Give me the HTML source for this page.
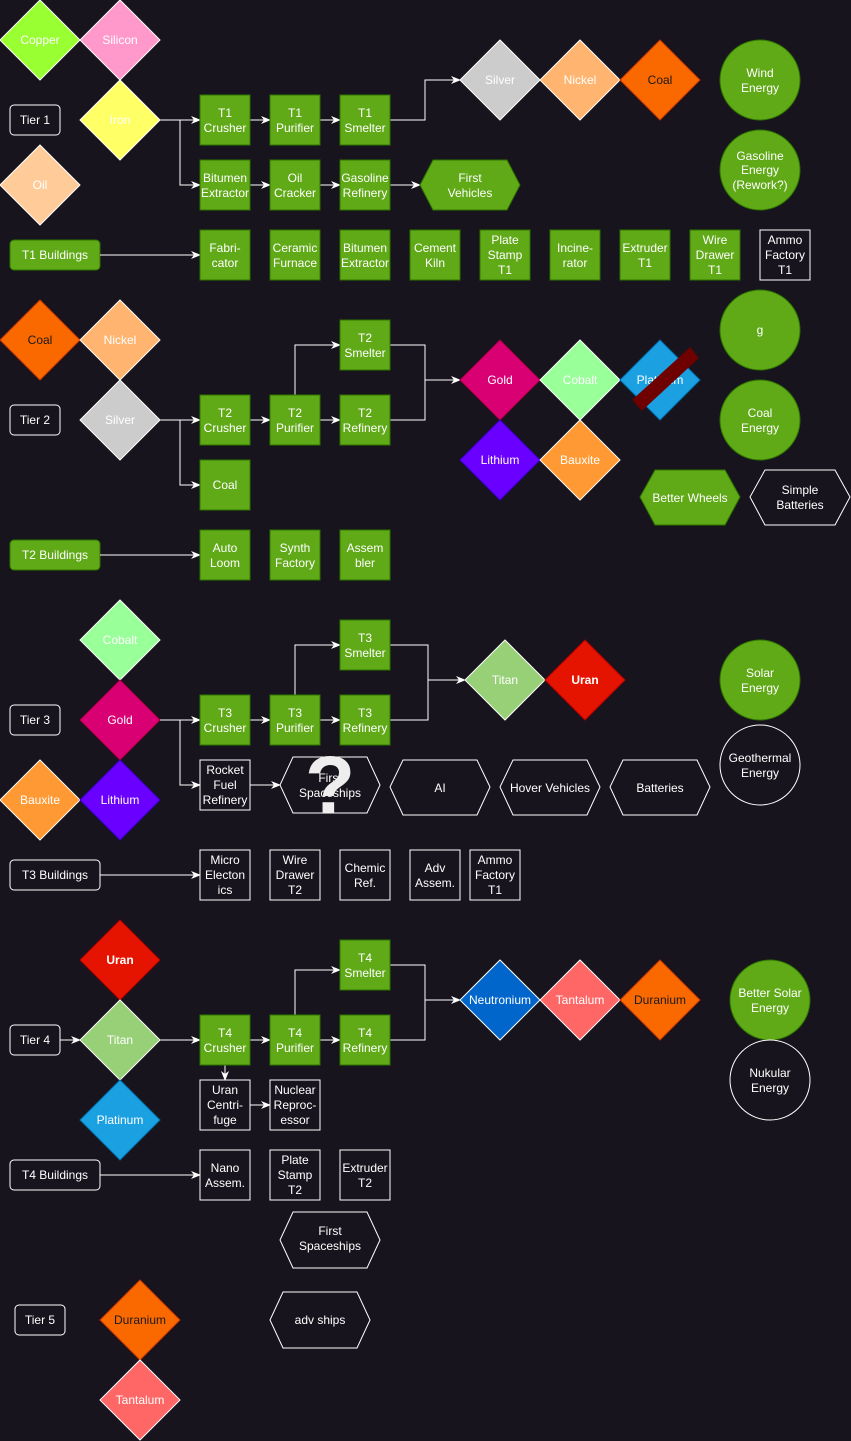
<!DOCTYPE html>
<html><head><meta charset="utf-8"><style>
html,body{margin:0;padding:0;background:#18141d;}
svg{display:block;}
text{font-family:"Liberation Sans",Arial,sans-serif;font-size:12px;fill:#fff;text-anchor:middle;}
.k{fill:#1a1a1a;}
.g{fill:#60a917;stroke:#2d7600;stroke-width:1;}
.w{fill:#18141d;stroke:#fff;stroke-width:1;}
.l{fill:none;stroke:#fff;stroke-width:1;}
</style></head><body>
<svg width="851" height="1441" viewBox="0 0 851 1441" xmlns="http://www.w3.org/2000/svg">
<defs>
<polygon id="d" points="0,-40 40,0 0,40 -40,0"/>
<marker id="a" markerWidth="10" markerHeight="10" refX="9" refY="5" orient="auto" markerUnits="userSpaceOnUse"><path d="M0,1 L10,5 L0,9 L3,5 z" fill="#fff"/></marker>
</defs>
<rect width="851" height="1441" fill="#18141d"/>

<!-- ===== TIER 1 ===== -->
<g stroke="#fff" stroke-width="1">
<use href="#d" x="40" y="40" fill="#99ff33"/>
<use href="#d" x="120" y="40" fill="#ff99cc"/>
<use href="#d" x="120" y="120" fill="#ffff66"/>
<use href="#d" x="40" y="185" fill="#ffcc99"/>
</g>
<text x="40" y="44">Copper</text><text x="120" y="44">Silicon</text><text x="120" y="124">Iron</text><text x="40" y="189">Oil</text>
<rect x="10" y="105" width="50" height="30" rx="4" class="w"/><text x="35" y="124">Tier 1</text>

<path class="l" d="M160,120 H200" marker-end="url(#a)"/>
<path class="l" d="M180,120 V185 H200" marker-end="url(#a)"/>
<path class="l" d="M250,120 H270" marker-end="url(#a)"/>
<path class="l" d="M320,120 H340" marker-end="url(#a)"/>
<path class="l" d="M250,185 H270" marker-end="url(#a)"/>
<path class="l" d="M320,185 H340" marker-end="url(#a)"/>
<path class="l" d="M390,185 H420" marker-end="url(#a)"/>
<path class="l" d="M390,120 H425 V80 H460" marker-end="url(#a)"/>

<rect x="200" y="95" width="50" height="50" class="g"/><text x="225" y="117">T1</text><text x="225" y="132">Crusher</text>
<rect x="270" y="95" width="50" height="50" class="g"/><text x="295" y="117">T1</text><text x="295" y="132">Purifier</text>
<rect x="340" y="95" width="50" height="50" class="g"/><text x="365" y="117">T1</text><text x="365" y="132">Smelter</text>
<rect x="200" y="160" width="50" height="50" class="g"/><text x="225" y="182">Bitumen</text><text x="225" y="197">Extractor</text>
<rect x="270" y="160" width="50" height="50" class="g"/><text x="295" y="182">Oil</text><text x="295" y="197">Cracker</text>
<rect x="340" y="160" width="50" height="50" class="g"/><text x="365" y="182">Gasoline</text><text x="365" y="197">Refinery</text>
<polygon points="433,160 507,160 520,185 507,210 433,210 420,185" class="g"/><text x="470" y="182">First</text><text x="470" y="197">Vehicles</text>

<g stroke="#fff"><use href="#d" x="500" y="80" fill="#cccccc"/><use href="#d" x="580" y="80" fill="#ffb570"/></g>
<use href="#d" x="660" y="80" fill="#fa6800" stroke="#c73500"/>
<text x="500" y="84">Silver</text><text x="580" y="84">Nickel</text><text x="660" y="84" class="k">Coal</text>
<circle cx="760" cy="80" r="40" class="g"/><text x="760" y="77">Wind</text><text x="760" y="92">Energy</text>
<circle cx="760" cy="170" r="40" class="g"/><text x="760" y="160">Gasoline</text><text x="760" y="174">Energy</text><text x="760" y="189">(Rework?)</text>

<rect x="10" y="240" width="90" height="30" rx="4" class="g"/><text x="55" y="259">T1 Buildings</text>
<path class="l" d="M100,255 H200" marker-end="url(#a)"/>
<rect x="200" y="230" width="50" height="50" class="g"/><text x="225" y="252">Fabri-</text><text x="225" y="267">cator</text>
<rect x="270" y="230" width="50" height="50" class="g"/><text x="295" y="252">Ceramic</text><text x="295" y="267">Furnace</text>
<rect x="340" y="230" width="50" height="50" class="g"/><text x="365" y="252">Bitumen</text><text x="365" y="267">Extractor</text>
<rect x="410" y="230" width="50" height="50" class="g"/><text x="435" y="252">Cement</text><text x="435" y="267">Kiln</text>
<rect x="480" y="230" width="50" height="50" class="g"/><text x="505" y="244">Plate</text><text x="505" y="259">Stamp</text><text x="505" y="274">T1</text>
<rect x="550" y="230" width="50" height="50" class="g"/><text x="575" y="252">Incine-</text><text x="575" y="267">rator</text>
<rect x="620" y="230" width="50" height="50" class="g"/><text x="645" y="252">Extruder</text><text x="645" y="267">T1</text>
<rect x="690" y="230" width="50" height="50" class="g"/><text x="715" y="244">Wire</text><text x="715" y="259">Drawer</text><text x="715" y="274">T1</text>
<rect x="760" y="230" width="50" height="50" class="w"/><text x="785" y="244">Ammo</text><text x="785" y="259">Factory</text><text x="785" y="274">T1</text>

<!-- ===== TIER 2 ===== -->
<use href="#d" x="40" y="340" fill="#fa6800" stroke="#c73500"/>
<g stroke="#fff"><use href="#d" x="120" y="340" fill="#ffb570"/><use href="#d" x="120" y="420" fill="#cccccc"/></g>
<text x="40" y="344" class="k">Coal</text><text x="120" y="344">Nickel</text><text x="120" y="424">Silver</text>
<rect x="10" y="405" width="50" height="30" rx="4" class="w"/><text x="35" y="424">Tier 2</text>

<path class="l" d="M160,420 H200" marker-end="url(#a)"/>
<path class="l" d="M180,420 V485 H200" marker-end="url(#a)"/>
<path class="l" d="M250,420 H270" marker-end="url(#a)"/>
<path class="l" d="M320,420 H340" marker-end="url(#a)"/>
<path class="l" d="M295,395 V345 H340" marker-end="url(#a)"/>
<path class="l" d="M390,345 H425 V420 H390 M425,380 H460" marker-end="url(#a)"/>

<rect x="200" y="395" width="50" height="50" class="g"/><text x="225" y="417">T2</text><text x="225" y="432">Crusher</text>
<rect x="270" y="395" width="50" height="50" class="g"/><text x="295" y="417">T2</text><text x="295" y="432">Purifier</text>
<rect x="340" y="320" width="50" height="50" class="g"/><text x="365" y="342">T2</text><text x="365" y="357">Smelter</text>
<rect x="340" y="395" width="50" height="50" class="g"/><text x="365" y="417">T2</text><text x="365" y="432">Refinery</text>
<rect x="200" y="460" width="50" height="50" class="g"/><text x="225" y="489">Coal</text>

<use href="#d" x="500" y="380" fill="#d80073" stroke="#a50040"/>
<use href="#d" x="580" y="380" fill="#99ff99" stroke="#fff"/>
<use href="#d" x="660" y="380" fill="#1ba1e2" stroke="#006eaf"/>
<use href="#d" x="500" y="460" fill="#6a00ff" stroke="#3700cc"/>
<use href="#d" x="580" y="460" fill="#ff9933" stroke="#fff"/>
<text x="500" y="384">Gold</text><text x="580" y="384">Cobalt</text><text x="660" y="384">Platinum</text>
<text x="500" y="464">Lithium</text><text x="580" y="464">Bauxite</text>
<polygon points="635,400 690,350 696,358 642,408" fill="#6f0000" stroke="#6f0000" stroke-width="4"/>
<circle cx="760" cy="330" r="40" class="g"/><text x="760" y="334">g</text>
<circle cx="760" cy="420" r="40" class="g"/><text x="760" y="417">Coal</text><text x="760" y="432">Energy</text>
<polygon points="655,470 725,470 740,497 725,525 655,525 640,497" class="g"/><text x="690" y="502">Better Wheels</text>
<polygon points="765,470 835,470 850,497 835,525 765,525 750,497" class="w"/><text x="800" y="494">Simple</text><text x="800" y="509">Batteries</text>

<rect x="10" y="540" width="90" height="30" rx="4" class="g"/><text x="55" y="559">T2 Buildings</text>
<path class="l" d="M100,555 H200" marker-end="url(#a)"/>
<rect x="200" y="530" width="50" height="50" class="g"/><text x="225" y="552">Auto</text><text x="225" y="567">Loom</text>
<rect x="270" y="530" width="50" height="50" class="g"/><text x="295" y="552">Synth</text><text x="295" y="567">Factory</text>
<rect x="340" y="530" width="50" height="50" class="g"/><text x="365" y="552">Assem</text><text x="365" y="567">bler</text>

<!-- ===== TIER 3 ===== -->
<use href="#d" x="120" y="640" fill="#99ff99" stroke="#fff"/>
<use href="#d" x="120" y="720" fill="#d80073" stroke="#a50040"/>
<use href="#d" x="40" y="800" fill="#ff9933" stroke="#fff"/>
<use href="#d" x="120" y="800" fill="#6a00ff" stroke="#3700cc"/>
<text x="120" y="644">Cobalt</text><text x="120" y="724">Gold</text><text x="40" y="804">Bauxite</text><text x="120" y="804">Lithium</text>
<rect x="10" y="705" width="50" height="30" rx="4" class="w"/><text x="35" y="724">Tier 3</text>

<path class="l" d="M160,720 H200" marker-end="url(#a)"/>
<path class="l" d="M180,720 V785 H200" marker-end="url(#a)"/>
<path class="l" d="M250,720 H270" marker-end="url(#a)"/>
<path class="l" d="M320,720 H340" marker-end="url(#a)"/>
<path class="l" d="M295,695 V645 H340" marker-end="url(#a)"/>
<path class="l" d="M390,645 H428 V720 H390 M428,680 H465" marker-end="url(#a)"/>
<path class="l" d="M250,785 H280" marker-end="url(#a)"/>

<rect x="200" y="695" width="50" height="50" class="g"/><text x="225" y="717">T3</text><text x="225" y="732">Crusher</text>
<rect x="270" y="695" width="50" height="50" class="g"/><text x="295" y="717">T3</text><text x="295" y="732">Purifier</text>
<rect x="340" y="620" width="50" height="50" class="g"/><text x="365" y="642">T3</text><text x="365" y="657">Smelter</text>
<rect x="340" y="695" width="50" height="50" class="g"/><text x="365" y="717">T3</text><text x="365" y="732">Refinery</text>

<use href="#d" x="505" y="680" fill="#97d077" stroke="#fff"/>
<use href="#d" x="585" y="680" fill="#e51400" stroke="#b20000"/>
<text x="505" y="684">Titan</text><text x="585" y="684" style="font-weight:bold">Uran</text>
<circle cx="760" cy="680" r="40" class="g"/><text x="760" y="677">Solar</text><text x="760" y="692">Energy</text>
<circle cx="760" cy="765" r="40" class="w"/><text x="760" y="762">Geothermal</text><text x="760" y="777">Energy</text>

<rect x="200" y="760" width="50" height="50" class="w"/><text x="225" y="774">Rocket</text><text x="225" y="789">Fuel</text><text x="225" y="804">Refinery</text>
<polygon points="293,757 367,757 380,785 367,813 293,813 280,785" class="w" stroke="#aaa"/><text x="330" y="782">First</text><text x="330" y="797">Spaceships</text>
<text x="330" y="813" style="font-size:82px;font-weight:bold;fill:#eee;">?</text>
<polygon points="403,760 477,760 490,787 477,815 403,815 390,787" class="w"/><text x="440" y="792">AI</text>
<polygon points="513,760 587,760 600,787 587,815 513,815 500,787" class="w"/><text x="550" y="792">Hover Vehicles</text>
<polygon points="623,760 697,760 710,787 697,815 623,815 610,787" class="w"/><text x="660" y="792">Batteries</text>

<rect x="10" y="860" width="90" height="30" rx="4" class="w"/><text x="55" y="879">T3 Buildings</text>
<path class="l" d="M100,875 H200" marker-end="url(#a)"/>
<rect x="200" y="850" width="50" height="50" class="w"/><text x="225" y="864">Micro</text><text x="225" y="879">Electon</text><text x="225" y="894">ics</text>
<rect x="270" y="850" width="50" height="50" class="w"/><text x="295" y="864">Wire</text><text x="295" y="879">Drawer</text><text x="295" y="894">T2</text>
<rect x="340" y="850" width="50" height="50" class="w"/><text x="365" y="872">Chemic</text><text x="365" y="887">Ref.</text>
<rect x="410" y="850" width="50" height="50" class="w"/><text x="435" y="872">Adv</text><text x="435" y="887">Assem.</text>
<rect x="470" y="850" width="50" height="50" class="w"/><text x="495" y="864">Ammo</text><text x="495" y="879">Factory</text><text x="495" y="894">T1</text>

<!-- ===== TIER 4 ===== -->
<use href="#d" x="120" y="960" fill="#e51400" stroke="#b20000"/>
<use href="#d" x="120" y="1040" fill="#97d077" stroke="#fff"/>
<use href="#d" x="120" y="1120" fill="#1ba1e2" stroke="#006eaf"/>
<text x="120" y="964" style="font-weight:bold">Uran</text><text x="120" y="1044">Titan</text><text x="120" y="1124">Platinum</text>
<rect x="10" y="1025" width="50" height="30" rx="4" class="w"/><text x="35" y="1044">Tier 4</text>
<path class="l" d="M60,1040 H80" marker-end="url(#a)"/>

<path class="l" d="M160,1040 H200" marker-end="url(#a)"/>
<path class="l" d="M250,1040 H270" marker-end="url(#a)"/>
<path class="l" d="M320,1040 H340" marker-end="url(#a)"/>
<path class="l" d="M295,1015 V970 H340" marker-end="url(#a)"/>
<path class="l" d="M390,965 H425 V1040 H390 M425,1000 H460" marker-end="url(#a)"/>
<path class="l" d="M225,1065 V1080" marker-end="url(#a)"/>
<path class="l" d="M250,1105 H270" marker-end="url(#a)"/>

<rect x="200" y="1015" width="50" height="50" class="g"/><text x="225" y="1037">T4</text><text x="225" y="1052">Crusher</text>
<rect x="270" y="1015" width="50" height="50" class="g"/><text x="295" y="1037">T4</text><text x="295" y="1052">Purifier</text>
<rect x="340" y="940" width="50" height="50" class="g"/><text x="365" y="962">T4</text><text x="365" y="977">Smelter</text>
<rect x="340" y="1015" width="50" height="50" class="g"/><text x="365" y="1037">T4</text><text x="365" y="1052">Refinery</text>
<rect x="200" y="1080" width="50" height="50" class="w"/><text x="225" y="1094">Uran</text><text x="225" y="1109">Centri-</text><text x="225" y="1124">fuge</text>
<rect x="270" y="1080" width="50" height="50" class="w"/><text x="295" y="1094">Nuclear</text><text x="295" y="1109">Reproc-</text><text x="295" y="1124">essor</text>

<use href="#d" x="500" y="1000" fill="#0066cc" stroke="#fff"/>
<use href="#d" x="580" y="1000" fill="#ff6666" stroke="#fff"/>
<use href="#d" x="660" y="1000" fill="#fa6800" stroke="#c73500"/>
<text x="500" y="1004">Neutronium</text><text x="580" y="1004">Tantalum</text><text x="660" y="1004" class="k">Duranium</text>
<circle cx="770" cy="1000" r="40" class="g"/><text x="770" y="997">Better Solar</text><text x="770" y="1012">Energy</text>
<circle cx="770" cy="1080" r="40" class="w"/><text x="770" y="1077">Nukular</text><text x="770" y="1092">Energy</text>

<rect x="10" y="1160" width="90" height="30" rx="4" class="w"/><text x="55" y="1179">T4 Buildings</text>
<path class="l" d="M100,1175 H200" marker-end="url(#a)"/>
<rect x="200" y="1150" width="50" height="50" class="w"/><text x="225" y="1172">Nano</text><text x="225" y="1187">Assem.</text>
<rect x="270" y="1150" width="50" height="50" class="w"/><text x="295" y="1164">Plate</text><text x="295" y="1179">Stamp</text><text x="295" y="1194">T2</text>
<rect x="340" y="1150" width="50" height="50" class="w"/><text x="365" y="1172">Extruder</text><text x="365" y="1187">T2</text>
<polygon points="293,1212 367,1212 380,1240 367,1268 293,1268 280,1240" class="w"/><text x="330" y="1235">First</text><text x="330" y="1250">Spaceships</text>

<!-- ===== TIER 5 ===== -->
<rect x="15" y="1305" width="50" height="30" rx="4" class="w"/><text x="40" y="1324">Tier 5</text>
<use href="#d" x="140" y="1320" fill="#fa6800" stroke="#c73500"/>
<use href="#d" x="140" y="1400" fill="#ff6666" stroke="#fff"/>
<text x="140" y="1324" class="k">Duranium</text><text x="140" y="1404">Tantalum</text>
<polygon points="283,1292 357,1292 370,1320 357,1348 283,1348 270,1320" class="w"/><text x="320" y="1324">adv ships</text>
</svg>
</body></html>
